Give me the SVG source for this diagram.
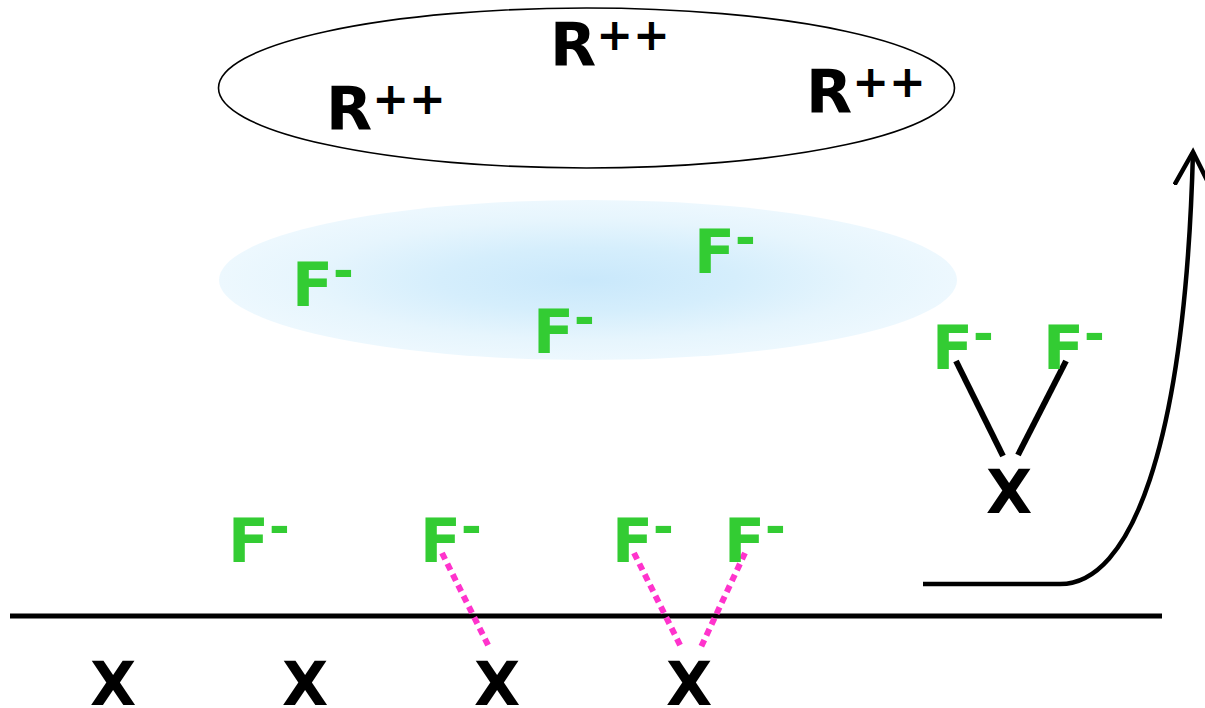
<svg xmlns="http://www.w3.org/2000/svg" width="1205" height="708" viewBox="0 0 1205 708">
<defs>
<radialGradient id="cloud" cx="50%" cy="50%" r="50%">
<stop offset="0" stop-color="#c9e8fb"/>
<stop offset="0.4" stop-color="#d5eefc"/>
<stop offset="0.75" stop-color="#e6f5fd"/>
<stop offset="1" stop-color="#edf8fe"/>
</radialGradient>
<marker id="chev" viewBox="0 0 40 40" refX="33" refY="19" markerWidth="40" markerHeight="40" markerUnits="userSpaceOnUse" orient="auto">
<path d="M1,2 L33,19 L1,36" fill="none" stroke="#000" stroke-width="4.5" stroke-linecap="round" stroke-linejoin="miter"/>
</marker>
<style>
.t{font-family:"DejaVu Sans",sans-serif;font-weight:bold;font-size:60px}
.r{fill:#000}
.f{fill:#33cc33}
.sup{font-size:44px}
.mn{font-size:50px}
.solid{stroke:#000;stroke-width:6;fill:none}
.dot{stroke:#ff33cc;stroke-width:6;stroke-dasharray:7 5;fill:none}
</style>
</defs>
<rect width="1205" height="708" fill="#fff"/>
<g id="cation-cloud">
<ellipse cx="586.5" cy="88" rx="368" ry="80" fill="none" stroke="#000" stroke-width="1.6"/>
</g>
<g id="anion-cloud">
<ellipse cx="588" cy="280" rx="369" ry="80" fill="url(#cloud)"/>
</g>
<g id="connectors">
<line x1="10" y1="616" x2="1162" y2="616" stroke="#000" stroke-width="5"/>
<line class="solid" x1="956" y1="361" x2="1003" y2="456"/>
<line class="solid" x1="1066" y1="361" x2="1018" y2="455"/>
<line class="dot" x1="442" y1="553" x2="489" y2="647"/>
<line class="dot" x1="634" y1="553" x2="681" y2="647"/>
<line class="dot" x1="745" y1="553" x2="701" y2="647"/>
<path d="M923,584 L1060,584 C1130,584 1185,450 1193,152" fill="none" stroke="#000" stroke-width="4.5" marker-end="url(#chev)"/>
</g>
<g id="r1"><text class="t r" x="326" y="130">R<tspan class="sup" dy="-16">++</tspan></text></g>
<g id="r2"><text class="t r" x="550" y="66">R<tspan class="sup" dy="-16">++</tspan></text></g>
<g id="r3"><text class="t r" x="806" y="113">R<tspan class="sup" dy="-16">++</tspan></text></g>
<g id="f1"><text class="t f" x="292" y="306">F<tspan class="mn" dy="-18.5">-</tspan></text></g>
<g id="f2"><text class="t f" x="533" y="353">F<tspan class="mn" dy="-18.5">-</tspan></text></g>
<g id="f3"><text class="t f" x="694" y="273">F<tspan class="mn" dy="-18.5">-</tspan></text></g>
<g id="f4"><text class="t f" x="932" y="369">F<tspan class="mn" dy="-18.5">-</tspan></text></g>
<g id="f5"><text class="t f" x="1043" y="369">F<tspan class="mn" dy="-18.5">-</tspan></text></g>
<g id="f6"><text class="t f" x="228" y="562">F<tspan class="mn" dy="-18.5">-</tspan></text></g>
<g id="f7"><text class="t f" x="420" y="562">F<tspan class="mn" dy="-18.5">-</tspan></text></g>
<g id="f8"><text class="t f" x="612" y="562">F<tspan class="mn" dy="-18.5">-</tspan></text></g>
<g id="f9"><text class="t f" x="724" y="562">F<tspan class="mn" dy="-18.5">-</tspan></text></g>
<g id="x0"><text class="t r" x="986" y="513">X</text></g>
<g id="x1"><text class="t r" x="90" y="705">X</text></g>
<g id="x2"><text class="t r" x="282" y="705">X</text></g>
<g id="x3"><text class="t r" x="474" y="705">X</text></g>
<g id="x4"><text class="t r" x="666" y="705">X</text></g>
</svg>
